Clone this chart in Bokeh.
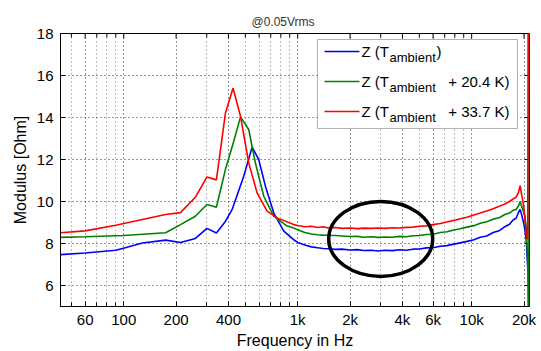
import math
from bokeh.plotting import figure
from bokeh.models import FixedTicker, Label, BoxAnnotation
from bokeh.embed import file_html
from bokeh.resources import INLINE

FONT = "Liberation Sans"

title_text = "@0.05Vrms"
x_label = "Frequency in Hz"
y_label = "Modulus [Ohm]"

x_major = [60, 100, 200, 400, 1000, 2000, 4000, 6000, 10000, 20000]
x_major_labels = ["60", "100", "200", "400", "1k", "2k", "4k", "6k", "10k", "20k"]
x_minor = [50, 70, 80, 90, 300, 500, 600, 700, 800, 900,
           3000, 5000, 7000, 8000, 9000]
y_major = [6, 8, 10, 12, 14, 16, 18]
x_lim = (43.3, 21500)
y_lim = (5, 18)

# ---- data ----
hf_freq = [1000, 1100, 1200, 1300, 1400, 1500, 1650, 1800, 2000, 2200, 2400,
           2650, 2900, 3200, 3500, 3850, 4200, 4600, 5000, 5500, 6000, 6600,
           7200, 7900, 8600, 9400, 10300, 11200, 12200, 13300, 14500, 15500,
           16500, 17300, 18000, 18600, 19000, 19400, 19800, 20200, 20600, 21000]

blue_freq_low = [43.3, 60, 90, 102, 128, 174, 212, 258, 301, 341, 384, 420,
                 490, 547, 597, 652, 728, 832, 948]
blue_low = [7.47, 7.55, 7.68, 7.80, 8.02, 8.16, 8.05, 8.24, 8.72, 8.50, 9.05,
            9.62, 11.21, 12.59, 12.0, 10.73, 9.46, 8.59, 8.18]
blue_hf = [8.05, 7.93, 7.84, 7.80, 7.76, 7.75, 7.72, 7.73, 7.69, 7.71, 7.67,
           7.68, 7.64, 7.68, 7.66, 7.70, 7.68, 7.73, 7.74, 7.79, 7.80, 7.87,
           7.90, 7.97, 8.03, 8.10, 8.18, 8.30, 8.36, 8.52, 8.62, 8.80, 8.92,
           9.12, 9.20, 9.48, 9.62, 9.35, 9.05, 8.70, 8.15, 6.85]

green_freq_low = [43.3, 60, 100, 174, 212, 258, 301, 341, 384, 429, 469, 523,
                  571, 638, 728, 869, 948]
green_low = [8.29, 8.32, 8.38, 8.51, 8.90, 9.30, 9.86, 9.73, 11.52, 12.87,
             14.03, 13.43, 11.84, 10.25, 9.30, 8.83, 8.74]
green_hf = [8.65, 8.52, 8.45, 8.42, 8.40, 8.39, 8.38, 8.36, 8.33, 8.34, 8.30,
            8.32, 8.29, 8.31, 8.30, 8.34, 8.32, 8.37, 8.38, 8.43, 8.44, 8.52,
            8.56, 8.64, 8.70, 8.78, 8.85, 8.96, 9.04, 9.16, 9.24, 9.38, 9.45,
            9.58, 9.62, 9.80, 10.00, 9.75, 9.55, 9.30, 8.75, 7.20]
green_tail_freq = [21300, 21450]
green_tail = [2.0, 30.0]

red_freq_low = [43.3, 60, 90, 128, 174, 212, 258, 301, 341, 384, 425, 469,
                523, 584, 667, 762, 948]
red_low = [8.51, 8.60, 8.87, 9.14, 9.38, 9.47, 10.20, 11.17, 11.03, 14.20,
           15.40, 14.06, 11.84, 10.41, 9.54, 9.22, 8.90]
red_hf = [8.86, 8.80, 8.82, 8.76, 8.80, 8.74, 8.76, 8.72, 8.74, 8.71, 8.73,
          8.72, 8.74, 8.72, 8.75, 8.74, 8.77, 8.78, 8.82, 8.84, 8.90, 8.95,
          9.02, 9.10, 9.18, 9.25, 9.36, 9.45, 9.55, 9.66, 9.78, 9.88, 10.00,
          10.12, 10.20, 10.45, 10.75, 10.30, 9.90, 9.30, 8.40, 8.20]
red_tail_freq = [21250]
red_tail = [30.0]

series_colors = ["#0000FF", "#008000", "#FF0000"]
legend_suffix = [")", "+ 20.4 K)", "+ 33.7 K)"]

ellipse_hz = 3000
ellipse_ohm = 8.22

# ---- figure ----
p = figure(width=541, height=351, x_axis_type="log",
           x_range=x_lim, y_range=y_lim,
           output_backend="svg", toolbar_location=None,
           min_border_left=60, min_border_right=12,
           min_border_top=33, min_border_bottom=43)
p.background_fill_color = "white"
p.border_fill_color = "white"
p.outline_line_color = "black"
p.outline_line_width = 1

p.title.text = title_text
p.title.align = "left"
p.title.offset = 191
p.title.text_font = FONT
p.title.text_font_size = "12px"
p.title.text_font_style = "normal"
p.title.text_color = "#333333"
p.title.standoff = 10

xt = FixedTicker(ticks=x_major, minor_ticks=x_minor)
yt = FixedTicker(ticks=y_major)
overrides = {v: s for v, s in zip(x_major, x_major_labels)}

for ax in (p.xaxis[0], p.yaxis[0]):
    ax.major_label_text_font = FONT
    ax.major_label_text_font_size = "15px"
    ax.major_label_text_color = "black"
    ax.axis_label_text_font = FONT
    ax.axis_label_text_font_size = "16px"
    ax.axis_label_text_font_style = "normal"
    ax.axis_label_text_color = "black"
    ax.axis_line_color = "black"
    ax.major_tick_line_color = "black"
    ax.minor_tick_line_color = "black"
    ax.major_tick_in = 5
    ax.major_tick_out = 0
    ax.minor_tick_in = 4
    ax.minor_tick_out = 0

p.xaxis[0].ticker = xt
p.xaxis[0].major_label_overrides = overrides
p.xaxis[0].axis_label = x_label
p.xaxis[0].major_label_standoff = 4
p.xaxis[0].axis_label_standoff = 1
p.yaxis[0].ticker = yt
p.yaxis[0].axis_label = y_label
p.yaxis[0].major_label_standoff = 7
p.yaxis[0].axis_label_standoff = 5

p.xgrid.ticker = xt
p.xgrid.grid_line_color = "#303030"
p.xgrid.grid_line_dash = "1 3"
p.xgrid.minor_grid_line_color = "#7a7a7a"
p.xgrid.minor_grid_line_dash = "1 3"
p.ygrid.ticker = yt
p.ygrid.grid_line_color = "#303030"
p.ygrid.grid_line_dash = "1 3"

# box ticks on the top and right edges (inward, like the bottom/left axes)
p.ray(x=x_major, y=[y_lim[1]] * len(x_major), length=5, length_units="screen",
      angle=-math.pi / 2, line_color="black", line_width=1)
p.ray(x=x_minor, y=[y_lim[1]] * len(x_minor), length=4, length_units="screen",
      angle=-math.pi / 2, line_color="black", line_width=1)
p.ray(x=[x_lim[1]] * len(y_major), y=y_major, length=5, length_units="screen",
      angle=math.pi, line_color="black", line_width=1)

# ---- curves ----
p.line(blue_freq_low + hf_freq, blue_low + blue_hf,
       line_color=series_colors[0], line_width=1.6)
p.line(green_freq_low + hf_freq + green_tail_freq, green_low + green_hf + green_tail,
       line_color=series_colors[1], line_width=1.6)
p.line(red_freq_low + hf_freq + red_tail_freq, red_low + red_hf + red_tail,
       line_color=series_colors[2], line_width=1.6)

# ---- highlight ellipse ----
p.ellipse(x=[ellipse_hz], y=[ellipse_ohm], width=[104], height=[75],
          width_units="screen", height_units="screen",
          fill_color=None, line_color="black", line_width=3.5)

# ---- legend (hand drawn, for subscripts) ----
p.add_layout(BoxAnnotation(left=257, right=457, bottom=178, top=267,
                           left_units="screen", right_units="screen",
                           bottom_units="screen", top_units="screen",
                           fill_color="white", fill_alpha=1.0,
                           line_color="black", line_width=1))
row_y = [255, 225, 195]
for i in range(3):
    y0 = row_y[i]
    p.add_layout(BoxAnnotation(left=264, right=299, bottom=y0 - 0.8, top=y0 + 0.8,
                               left_units="screen", right_units="screen",
                               bottom_units="screen", top_units="screen",
                               fill_color=series_colors[i], fill_alpha=1.0,
                               line_alpha=0))
    p.add_layout(Label(x=301, y=y0, x_units="screen", y_units="screen",
                       text="Z (T", text_font=FONT, text_font_size="15px",
                       text_baseline="middle", text_color="black"))
    p.add_layout(Label(x=329, y=y0 - 6, x_units="screen", y_units="screen",
                       text="ambient", text_font=FONT, text_font_size="13px",
                       text_baseline="middle", text_color="black"))
    if i == 0:
        p.add_layout(Label(x=376, y=y0, x_units="screen", y_units="screen",
                           text=legend_suffix[i], text_font=FONT,
                           text_font_size="15px", text_baseline="middle",
                           text_color="black"))
    else:
        p.add_layout(Label(x=449, y=y0, x_units="screen", y_units="screen",
                           text=legend_suffix[i], text_font=FONT,
                           text_font_size="15px", text_baseline="middle",
                           text_align="right", text_color="black"))

open("out.html", "w").write(file_html(p, INLINE))
